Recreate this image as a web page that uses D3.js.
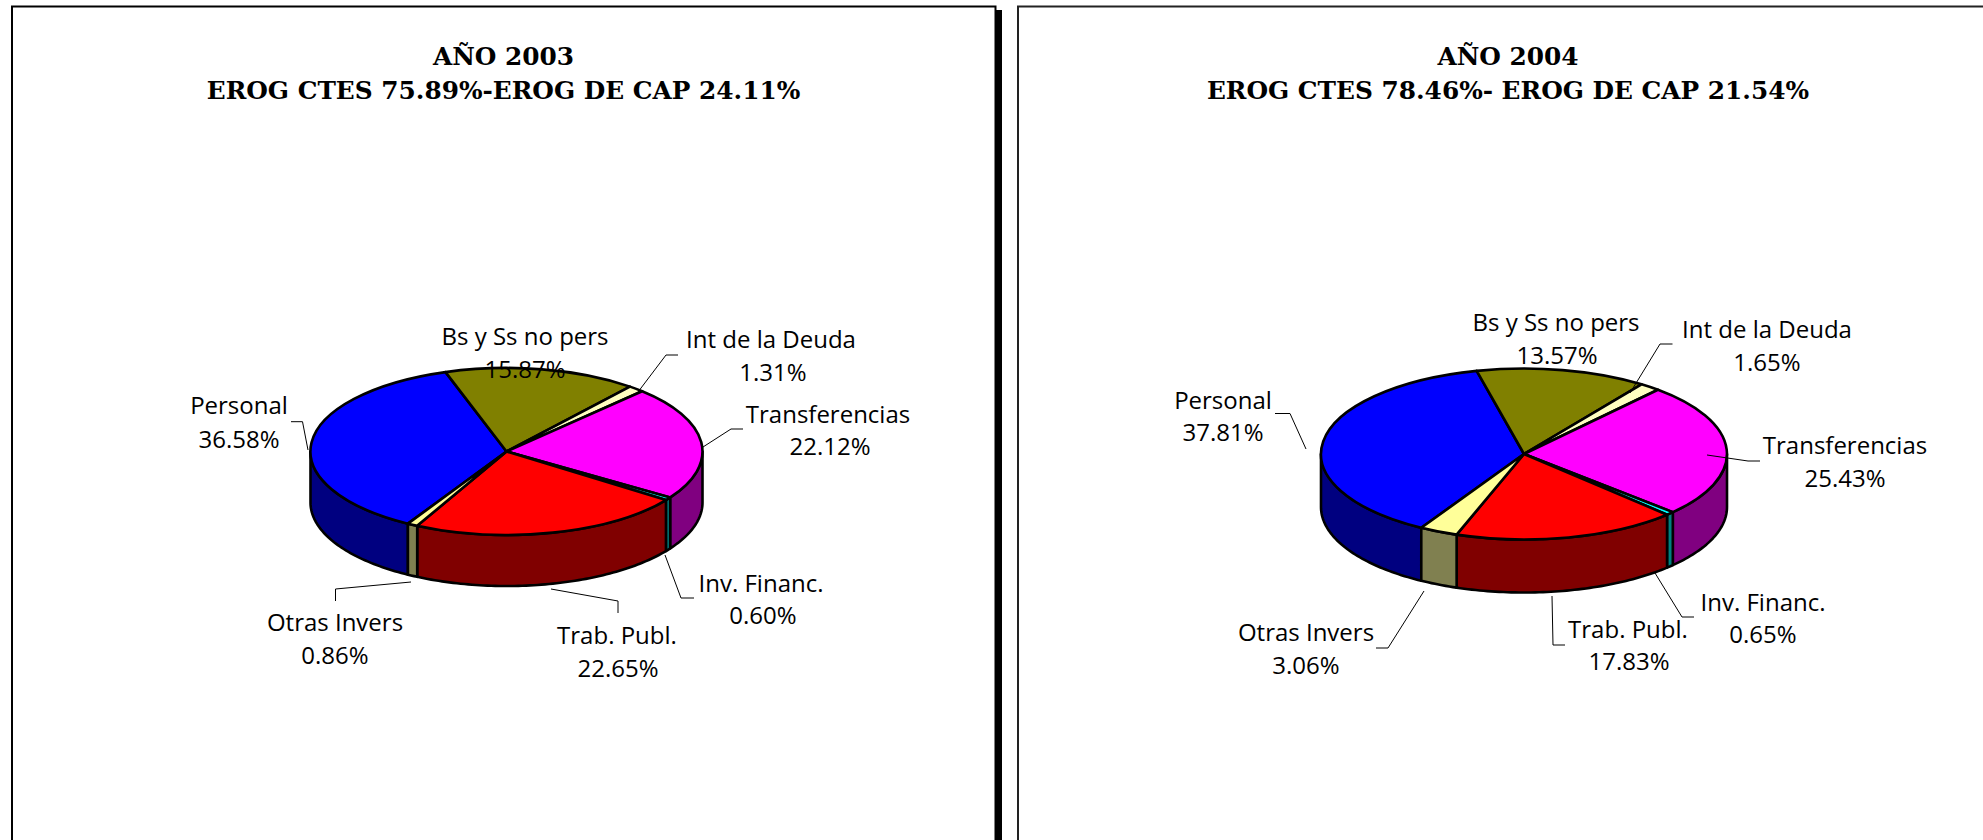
<!DOCTYPE html>
<html><head><meta charset="utf-8">
<script src="https://cdn.jsdelivr.net/npm/d3@7/dist/d3.min.js"></script>
<style>html,body{margin:0;padding:0;background:#fff;overflow:hidden}svg{display:block}</style>
</head><body><svg id="c" width="1983" height="840"></svg>
<script>
const categories = ["Personal","Bs y Ss no pers","Int de la Deuda","Transferencias","Inv. Financ.","Trab. Publ.","Otras Invers"];
const values2003 = [36.58,15.87,1.31,22.12,0.60,22.65,0.86];
const values2004 = [37.81,13.57,1.65,25.43,0.65,17.83,3.06];
const title2003 = ["AÑO 2003","EROG CTES 75.89%-EROG DE CAP 24.11%"];
const title2004 = ["AÑO 2004","EROG CTES 78.46%- EROG DE CAP 21.54%"];
const topColors = ["#0000ff","#808000","#ffffc0","#ff00ff","#00ffff","#ff0000","#ffff99"];
const sideColors = ["#000080","#404000","#808060","#800080","#008080","#800000","#808050"];

// layout only (not data)
const panels = [
 {values:values2003,title:title2003,tx:503.5,ty:[65,99],cx:506.5,cy:451.5,rx:196,ry:83.5,depth:51,start:-149.8,
  labels:[[239,405.5,239,439.5],[525,336.5,525,369.5],[771,339.5,773,372.5],[828,414.5,830,446.5],[761,583.5,763,615.5],[617,635.5,618,668.5],[335,623,335,656]],
  leaders:[[[291,421.7],[302.5,421.7],[308,450]],null,[[678,355],[666,355],[638,392]],[[743,429],[731,429],[703,447]],[[694,598],[681,598],[665,555]],[[618,613],[618,601],[551,589]],[[335.5,601],[335.5,589],[411,582]]]},
 {values:values2004,title:title2004,tx:1508,ty:[65,99],cx:1524,cy:454,rx:203,ry:85.5,depth:53,start:-149.6,
  labels:[[1223,400.5,1223,433],[1556,322.5,1557,355.5],[1767,329.5,1767,362.5],[1845,445.5,1845,478.5],[1763,602.5,1763,634.5],[1628,629.5,1629,661.5],[1306,632.5,1306,665.5]],
  leaders:[[[1275,413.5],[1290,413.5],[1306,449]],null,[[1672.5,344],[1660,344],[1630,393]],[[1760,461],[1748,461],[1707,455]],[[1694,617],[1682,617],[1655,573]],[[1565,645],[1553,645],[1552,596]],[[1376,648],[1388,648],[1424,591]]]}
];

const svg = d3.select("#c");
// frames
svg.append("rect").attr("x",995).attr("y",10).attr("width",7).attr("height",830).attr("fill","#000");
svg.append("path").attr("d","M12,840V6.5H995.5V840").attr("fill","#fff").attr("stroke","#000").attr("stroke-width",2);
svg.append("path").attr("d","M1018,840V6.5H1983").attr("fill","#fff").attr("stroke","#222").attr("stroke-width",2);

const rad = d=>d*Math.PI/180;
panels.forEach(p=>{
  const g = svg.append("g");
  g.selectAll("text.t").data(p.title).join("text").attr("class","t")
    .attr("x",p.tx).attr("y",(d,i)=>p.ty[i]).attr("text-anchor","middle")
    .attr("font-family","'DejaVu Serif'").attr("font-weight","bold").attr("font-size",24.8).text(d=>d);

  const pie = d3.pie().sort(null).value(d=>d)
     .startAngle(rad(p.start)).endAngle(rad(p.start+360));
  const arcs = pie(p.values);
  const x = a=>p.cx+p.rx*Math.sin(a), y = a=>p.cy-p.ry*Math.cos(a);
  const line = d3.line();

  // side walls: only the front half of the ellipse (90° to 270°)
  const lo=rad(90), hi=rad(270);
  arcs.forEach((a,i)=>{
    let s=a.startAngle, e=a.endAngle;
    if(e<lo){s+=2*Math.PI;e+=2*Math.PI;}
    const a0=Math.max(s,lo), a1=Math.min(e,hi);
    if(a1<=a0) return;
    const n=Math.max(2,Math.ceil((a1-a0)/0.02));
    const th=d3.range(n+1).map(k=>a0+(a1-a0)*k/n);
    const pts=th.map(t=>[x(t),y(t)]).concat(th.slice().reverse().map(t=>[x(t),y(t)+p.depth]));
    g.append("path").attr("d",line(pts)+"Z").attr("fill",sideColors[i])
      .attr("stroke","#000").attr("stroke-width",2.6).attr("stroke-linejoin","round");
  });

  // top faces
  const arc = d3.arc().innerRadius(0).outerRadius(1);
  const top = g.append("g").attr("transform",`translate(${p.cx},${p.cy}) scale(${p.rx},${p.ry})`);
  top.selectAll("path").data(arcs).join("path").attr("d",arc)
    .attr("fill",(d,i)=>topColors[i]).attr("stroke","#000").attr("stroke-width",2.6)
    .attr("stroke-linejoin","round").attr("vector-effect","non-scaling-stroke");

  // leaders
  p.leaders.forEach(l=>{ if(l) g.append("path").attr("d",line(l)).attr("fill","none").attr("stroke","#000").attr("stroke-width",1); });

  // labels
  categories.forEach((c,i)=>{
    const L=p.labels[i];
    const t=[[c,L[0],L[1]],[p.values[i].toFixed(2)+"%",L[2],L[3]]];
    t.forEach(r=>g.append("text").attr("x",r[1]).attr("y",r[2]).attr("dy","0.35em").attr("text-anchor","middle")
      .attr("font-family","'Open Sans'").attr("font-size",24).attr("fill","#000").text(r[0]));
  });
});
</script></body></html>
